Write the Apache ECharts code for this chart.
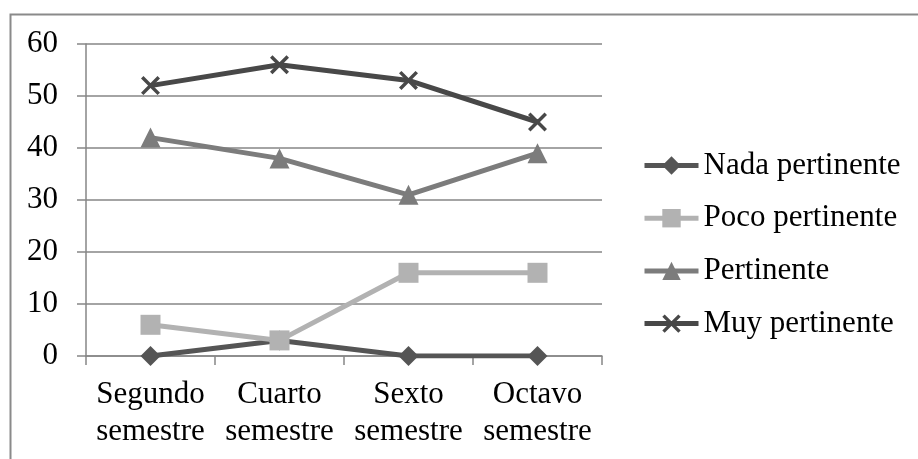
<!DOCTYPE html>
<html>
<head>
<meta charset="utf-8">
<style>html,body{margin:0;padding:0;background:#fff;}#c{width:918px;height:459px;}</style>
<script src="https://cdn.jsdelivr.net/npm/echarts@6/dist/echarts.min.js"></script>
</head>
<body>
<div id="c"></div>
<script>
const categories = ['Segundo\nsemestre', 'Cuarto\nsemestre', 'Sexto\nsemestre', 'Octavo\nsemestre'];
const nadaPertinente = [0, 3, 0, 0];
const pocoPertinente = [6, 3, 16, 16];
const pertinente = [42, 38, 31, 39];
const muyPertinente = [52, 56, 53, 45];
const yTicks = [0, 10, 20, 30, 40, 50, 60];

const FONT = "'Liberation Serif', 'DejaVu Serif', serif";
const AXIS = '#868686';
const xPath = 'path://M0,1.3 L1.3,0 L10,8.7 L8.7,10 Z M8.7,0 L10,1.3 L1.3,10 L0,8.7 Z';

function mk(name, data, color, symbol, size) {
  return {
    name: name, type: 'line', data: data,
    symbol: symbol, symbolSize: size, showSymbol: true,
    lineStyle: { color: color, width: 5 },
    itemStyle: { color: color },
    emphasis: { disabled: true },
    animation: false
  };
}

const chart = echarts.init(document.getElementById('c'));
chart.setOption({
  backgroundColor: '#fff',
  animation: false,
  graphic: [{
    type: 'rect', left: 8, top: 12, shape: { x: 0, y: 0, width: 1000, height: 1000 },
    style: { fill: 'none', stroke: '#8a8a8a', lineWidth: 2 }, silent: true, z: -1
  }],
  grid: { left: 86, right: 316, top: 44, bottom: 103, containLabel: false },
  legend: {
    orient: 'vertical', left: 637, top: 145,
    itemWidth: 54, itemHeight: 23, itemGap: 21.7,
    lineStyle: { width: 5 },
    textStyle: { fontFamily: FONT, fontSize: 31, color: '#000', lineHeight: 30 },
    data: ['Nada pertinente', 'Poco pertinente', 'Pertinente', 'Muy pertinente']
  },
  xAxis: {
    type: 'category', data: categories, boundaryGap: true,
    axisLine: { show: true, lineStyle: { color: AXIS, width: 1.5 } },
    axisTick: { show: true, length: 9, interval: 0, lineStyle: { color: AXIS, width: 1.5 } },
    axisLabel: { fontFamily: FONT, fontSize: 31, color: '#000', lineHeight: 37, margin: 20, interval: 0 }
  },
  yAxis: {
    type: 'value', min: yTicks[0], max: yTicks[yTicks.length - 1], interval: 10,
    axisLine: { show: true, lineStyle: { color: AXIS, width: 1.5 } },
    axisTick: { show: true, length: 9, lineStyle: { color: AXIS, width: 1.5 } },
    splitLine: { show: true, lineStyle: { color: AXIS, width: 1.5 } },
    axisLabel: { fontFamily: FONT, fontSize: 31, color: '#000', margin: 28 }
  },
  series: [
    mk('Nada pertinente', nadaPertinente, '#555555', 'diamond', 20),
    mk('Poco pertinente', pocoPertinente, '#b2b2b2', 'rect', 20),
    mk('Pertinente', pertinente, '#7c7c7c', 'triangle', 20),
    mk('Muy pertinente', muyPertinente, '#484848', xPath, 19)
  ]
});
</script>
</body>
</html>
